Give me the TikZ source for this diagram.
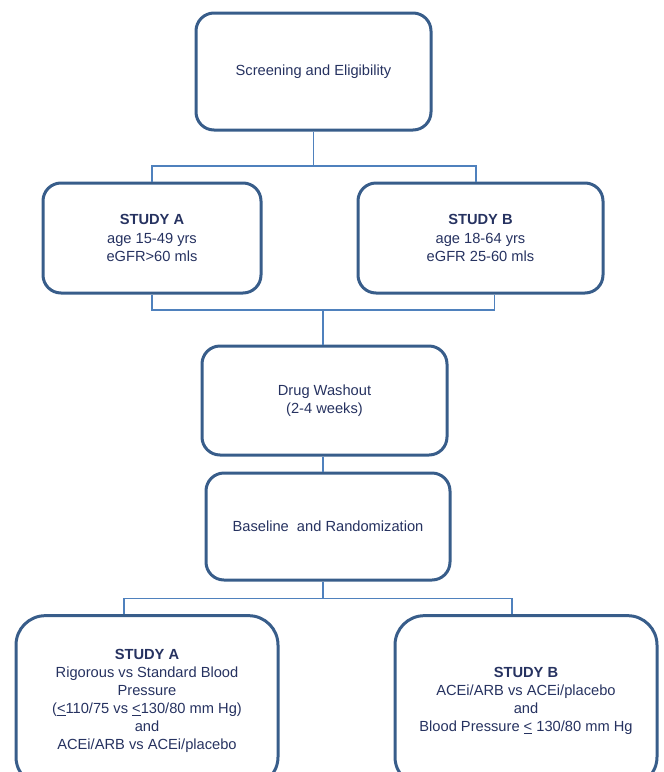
\documentclass[tikz,border=0pt]{standalone}
\usepackage{fontspec}
\setmainfont{Liberation Sans}
\usetikzlibrary{calc}
\definecolor{boxc}{RGB}{56,93,138}
\definecolor{linec}{RGB}{79,129,189}
\definecolor{txtc}{RGB}{38,50,96}
\tikzset{
  stepbox/.style={draw=boxc, line width=2.25pt, rounded corners=13.5pt, align=center,
    text=txtc, font=\fontsize{11pt}{13.6pt}\selectfont, inner sep=0pt},
  bigbox/.style={stepbox, rounded corners=22pt},
  conn/.style={draw=linec, line width=1pt}
}
\begin{document}
\begin{tikzpicture}[x=0.75pt,y=-0.75pt]
\useasboundingbox (0,0) rectangle (664,772);
\clip (0,0) rectangle (664,772);
\node[stepbox, minimum width=176.25pt, minimum height=87.75pt] (scr) at (313.5,71.5) {Screening and Eligibility};
\node[stepbox, minimum width=163.5pt, minimum height=82.5pt] (sa) at (152,238) {\textbf{STUDY A}\\age 15-49 yrs\\eGFR>60 mls};
\node[stepbox, minimum width=183.75pt, minimum height=82.5pt] (sb) at (480.5,238) {\textbf{STUDY B}\\age 18-64 yrs\\eGFR 25-60 mls};
\node[stepbox, minimum width=183.75pt, minimum height=81.75pt] (wo) at (324.5,400.5) {Drug Washout\\(2-4 weeks)};
\node[stepbox, minimum width=183pt, minimum height=80.25pt] (bl) at (328,526.5) {Baseline\ \ and Randomization};
\node[bigbox, minimum width=196.5pt, minimum height=128pt] (ra) at (147,701) {\textbf{STUDY A}\\Rigorous vs Standard Blood\\Pressure\\(\underline{<}110/75 vs \underline{<}130/80 mm Hg)\\and\\ACEi/ARB vs ACEi/placebo};
\node[bigbox, minimum width=196.5pt, minimum height=128pt] (rb) at (526,701) {\textbf{STUDY B}\\ACEi/ARB vs ACEi/placebo\\and\\Blood Pressure \underline{<} 130/80 mm Hg};
% top split
\coordinate (t1) at (313.5,166);
\draw[conn] (scr.south) -- (t1);
\draw[conn] (sa.north) |- (t1) -| ([xshift=-3.4pt]sb.north);
% merge
\coordinate (t2) at (323,310);
\draw[conn] (sa.south) |- (t2) -| ([xshift=10.3pt]sb.south);
\draw[conn] (t2) -- (t2 |- wo.north);
\draw[conn] (t2 |- wo.south) -- (t2 |- bl.north);
% bottom split
\coordinate (t3) at (323,598.5);
\draw[conn] (t2 |- bl.south) -- (t3);
\draw[conn] ([xshift=-17.25pt]ra.north) |- (t3) -| ([xshift=-10.5pt]rb.north);
\end{tikzpicture}
\end{document}
